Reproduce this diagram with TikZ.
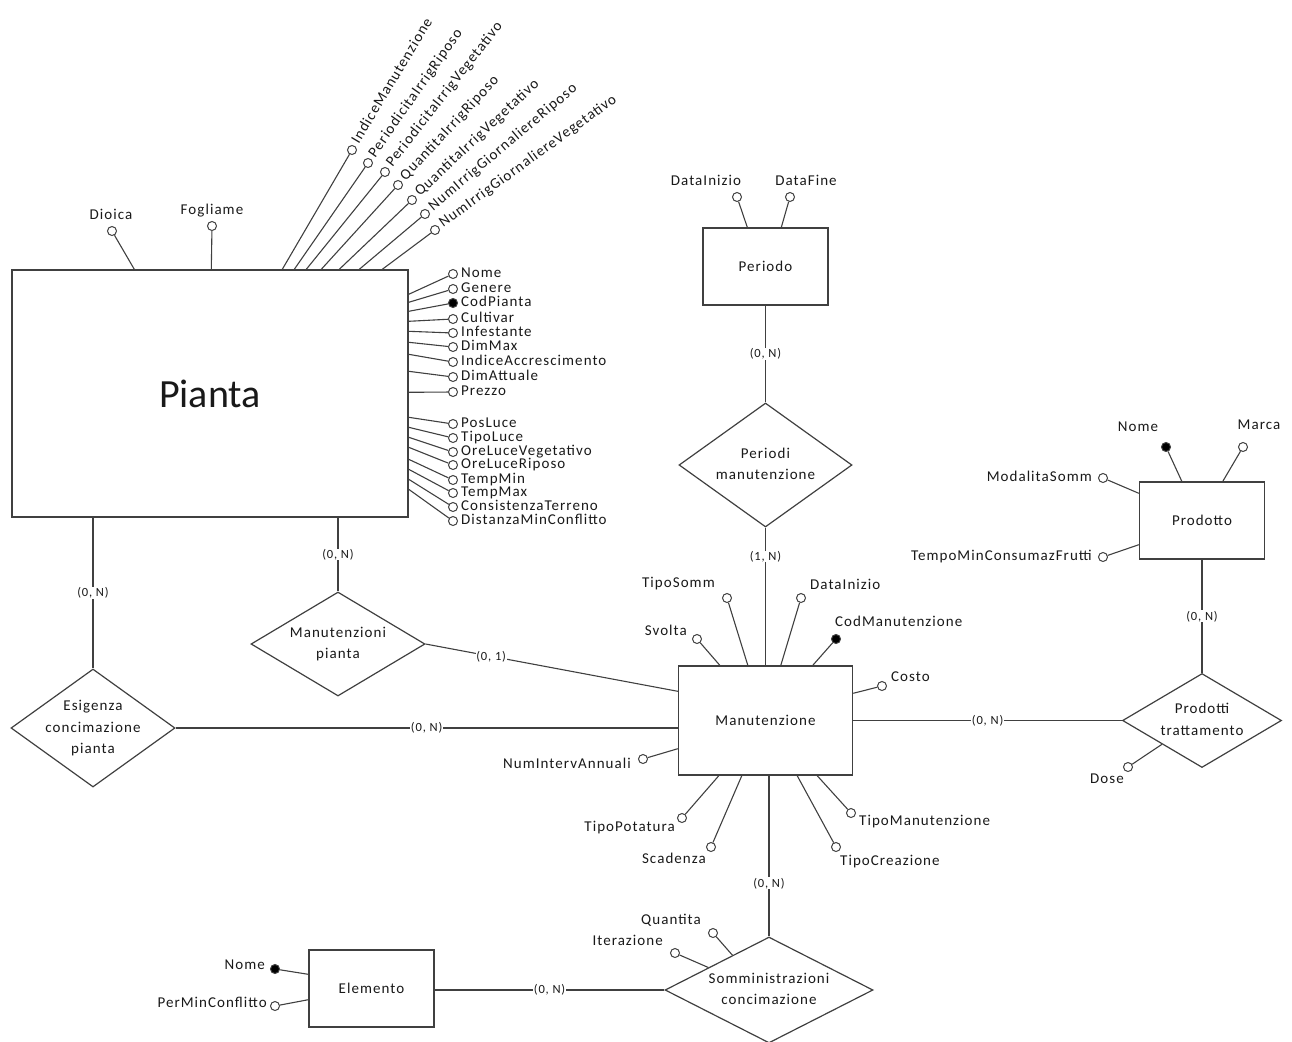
\documentclass[tikz,border=0pt]{standalone}
\usepackage{fontspec}
\setmainfont{Carlito}[LetterSpace=7]
\newfontfamily\titlefont{Carlito}
\usetikzlibrary{positioning, shapes.geometric, calc}

% relation text: zero-size box, so the diamond keeps its given size
\newcommand\reltext[1]{\smash{\raisebox{-3.5pt}{\makebox[0pt]{\begin{tabular}{@{}c@{}}#1\end{tabular}}}}}

\begin{document}
\begin{tikzpicture}[
  x=1pt, y=-1pt,
  font=\fontsize{15}{21.5}\selectfont,
  entity/.style={draw=black!75, line width=1.4pt, fill=white, inner sep=0pt, text=black!90},
  rel/.style={diamond, draw=black!75, line width=1.2pt, fill=white, inner sep=0pt, text=black!90},
  attr/.style={circle, draw=black!75, line width=1pt, fill=white, inner sep=0pt, minimum size=9pt},
  key/.style={attr, fill=black},
  lbl/.style={inner sep=0pt, text height=1.5ex, text depth=0.2ex, text=black!90},
  conn/.style={draw=black!75, line width=1.1pt},
  card/.style={fill=white, inner sep=0.5pt, text=black!90, font=\fontsize{12.5}{14}\selectfont}
]
\useasboundingbox (0,0) rectangle (1292,1041);

% === ENTITIES ===
\node[entity, minimum width=396pt, minimum height=247pt] (pianta) at (210,393.5)
  {\titlefont\fontsize{40}{44}\selectfont Pianta};
\node[entity, minimum width=125pt, minimum height=77pt] (periodo) at (765.5,266.5) {Periodo};
\node[entity, minimum width=174pt, minimum height=109pt] (manut) at (765.5,720.5) {Manutenzione};
\node[entity, minimum width=125pt, minimum height=77pt] (prodotto) at (1202,520.5) {Prodotto};
\node[entity, minimum width=125pt, minimum height=77pt] (elemento) at (371.5,988.5) {Elemento};

% === RELATIONS ===
\node[rel, minimum width=173pt, minimum height=124pt] (permanut) at (765.5,465)
  {\reltext{Periodi\\manutenzione}};
\node[rel, minimum width=174pt, minimum height=104pt] (manpianta) at (338,644)
  {\reltext{Manutenzioni\\pianta}};
\node[rel, minimum width=164pt, minimum height=118pt] (esig) at (93,728)
  {\reltext{Esigenza\\concimazione\\pianta}};
\node[rel, minimum width=159pt, minimum height=94pt] (prodtr) at (1202,720.5)
  {\reltext{Prodotti\\trattamento}};
\node[rel, minimum width=208pt, minimum height=106pt] (somm) at (769,990)
  {\reltext{Somministrazioni\\concimazione}};

% === CONNECTORS ===
\draw[conn] (periodo) -- node[card] (k1) {(0, N)} (permanut);
\draw[conn] (permanut) -- node[card, pos=0.21] (k2) {(1, N)} (manut);
\draw[conn] (pianta.south -| manpianta.north) -- node[card] (k3) {(0, N)} (manpianta.north);
\draw[conn] (pianta.south -| esig.north) -- node[card] (k4) {(0, N)} (esig.north);
\draw[conn] (manpianta.east) -- node[card, pos=0.26] (k5) {(0, 1)} ([yshift=-26pt]manut.north west);
\draw[conn] (esig.east) -- node[card] (k6) {(0, N)} (esig.east -| manut.west);
\draw[conn] (manut.east |- prodtr.west) -- node[card] (k7) {(0, N)} (prodtr.west);
\draw[conn] (prodotto) -- node[card] (k8) {(0, N)} (prodtr);
\draw[conn] (manut.south -| somm.north) -- node[card, pos=0.67] (k9) {(0, N)} (somm.north);
\draw[conn] (elemento.east |- somm.west) -- node[card] (k10) {(0, N)} (somm.west);

% === PIANTA ATTRIBUTES ===
\node[attr] (dioica) at (112,231) {};
\node[lbl] (tdioica) at (111,216) {Dioica};
\draw[conn] ([xshift=123pt]pianta.north west) -- (dioica);
\node[attr] (fogliame) at (212,226) {};
\node[lbl] (tfogliame) at (212,211) {Fogliame};
\draw[conn] ([xshift=200pt]pianta.north west) -- (fogliame);

\foreach \i/\o/\cx/\cy/\a/\t in {
  1/271/352/150/59/IndiceManutenzione,
  2/283/368/163/55/PeriodicitaIrrigRiposo,
  3/295/385/172/52/PeriodicitaIrrigVegetativo,
  4/310/398/185/47/QuantitaIrrigRiposo,
  5/328/412/200/43/QuantitaIrrigVegetativo,
  6/348/425/214/40/NumIrrigGiornaliereRiposo,
  7/371/435/230/36/NumIrrigGiornaliereVegetativo}
{
  \node[attr] (pr\i) at (\cx,\cy) {};
  \node[lbl, inner xsep=3pt, rotate=\a, anchor=west] (tpr\i) at (pr\i.\a) {\t};
  \draw[conn] ([xshift=\o pt]pianta.north west) -- (pr\i);
}

\foreach \i/\y/\o/\k/\t in {
  1/274/25/attr/Nome, 2/289/33/attr/Genere, 3/303/42/key/CodPianta,
  4/319/52/attr/Cultivar, 5/333/62/attr/Infestante, 6/347/73/attr/DimMax,
  7/362/85/attr/IndiceAccrescimento, 8/377/102/attr/DimAttuale, 9/392/123/attr/Prezzo,
  10/424/148/attr/PosLuce, 11/438/158/attr/TipoLuce, 12/452/168/attr/OreLuceVegetativo,
  13/465/178/attr/OreLuceRiposo, 14/480/190/attr/TempMin, 15/493/200/attr/TempMax,
  16/507/210/attr/ConsistenzaTerreno, 17/521/220/attr/DistanzaMinConflitto}
{
  \node[\k] (pa\i) at (453,\y) {};
  \node[lbl, anchor=west, xshift=3pt] (tpa\i) at (pa\i.east) {\t};
  \draw[conn] ([yshift=-\o pt]pianta.north east) -- (pa\i);
}

% === PERIODO ATTRIBUTES ===
\node[attr] (pinizio) at (737,197) {};
\node[lbl] (tpinizio) at (706,182) {DataInizio};
\draw[conn] ([xshift=45pt]periodo.north west) -- (pinizio);
\node[attr] (pfine) at (790,197) {};
\node[lbl] (tpfine) at (806,182) {DataFine};
\draw[conn] ([xshift=79pt]periodo.north west) -- (pfine);

% === MANUTENZIONE ATTRIBUTES ===
\node[attr] (msvolta) at (697,639) {};
\node[lbl, anchor=east] (tmsvolta) at (687,632) {Svolta};
\draw[conn] ([xshift=42pt]manut.north west) -- (msvolta);
\node[attr] (mtiposomm) at (727,598) {};
\node[lbl, anchor=east] (tmtiposomm) at (715,584) {TipoSomm};
\draw[conn] ([xshift=70pt]manut.north west) -- (mtiposomm);
\node[attr] (minizio) at (801,598) {};
\node[lbl, anchor=west] (tminizio) at (810,586) {DataInizio};
\draw[conn] ([xshift=103pt]manut.north west) -- (minizio);
\node[key] (mcod) at (836,639) {};
\node[lbl, anchor=west] (tmcod) at (835,623) {CodManutenzione};
\draw[conn] ([xshift=135pt]manut.north west) -- (mcod);
\node[attr] (mcosto) at (882,686) {};
\node[lbl, anchor=west] (tmcosto) at (891,678) {Costo};
\draw[conn] ([yshift=-28pt]manut.north east) -- (mcosto);
\node[attr] (mnum) at (643,759) {};
\node[lbl, anchor=east] (tmnum) at (631,765) {NumIntervAnnuali};
\draw[conn] ([yshift=27pt]manut.south west) -- (mnum);
\node[attr] (mpotatura) at (682,818) {};
\node[lbl, anchor=east] (tmpotatura) at (675,828) {TipoPotatura};
\draw[conn] ([xshift=41pt]manut.south west) -- (mpotatura);
\node[attr] (mscadenza) at (711,847) {};
\node[lbl, anchor=east] (tmscadenza) at (706,860) {Scadenza};
\draw[conn] ([xshift=64pt]manut.south west) -- (mscadenza);
\node[attr] (mtipoman) at (851,813) {};
\node[lbl, anchor=west] (tmtipoman) at (859,822) {TipoManutenzione};
\draw[conn] ([xshift=-36pt]manut.south east) -- (mtipoman);
\node[attr] (mcreazione) at (836,847) {};
\node[lbl, anchor=west] (tmcreazione) at (840,862) {TipoCreazione};
\draw[conn] ([xshift=-56pt]manut.south east) -- (mcreazione);

% === PRODOTTO ATTRIBUTES ===
\node[key] (pnome) at (1166,447) {};
\node[lbl] (tpnome) at (1138,428) {Nome};
\draw[conn] ([xshift=43pt]prodotto.north west) -- (pnome);
\node[attr] (pmarca) at (1243,447) {};
\node[lbl] (tpmarca) at (1259,426) {Marca};
\draw[conn] ([xshift=84pt]prodotto.north west) -- (pmarca);
\node[attr] (pmod) at (1103,478) {};
\node[lbl, anchor=east] (tpmod) at (1092,478) {ModalitaSomm};
\draw[conn] ([yshift=-12pt]prodotto.north west) -- (pmod);
\node[attr] (ptempo) at (1103,557) {};
\node[lbl, anchor=east] (tptempo) at (1092,557) {TempoMinConsumazFrutti};
\draw[conn] ([yshift=15pt]prodotto.south west) -- (ptempo);
\node[attr] (dose) at (1128,767) {};
\node[lbl] (tdose) at (1107,780) {Dose};
\draw[conn] (prodtr.south west) -- (dose);

% === SOMMINISTRAZIONI / ELEMENTO ATTRIBUTES ===
\node[attr] (squant) at (713,933) {};
\node[lbl, anchor=east] (tsquant) at (701,921) {Quantita};
\draw[conn] ($(somm.west)!0.65!(somm.north)$) -- (squant);
\node[attr] (siter) at (675,953) {};
\node[lbl, anchor=east] (tsiter) at (663,942) {Iterazione};
\draw[conn] ($(somm.west)!0.42!(somm.north)$) -- (siter);
\node[key] (enome) at (275,969) {};
\node[lbl, anchor=east] (tenome) at (265,966) {Nome};
\draw[conn] ([yshift=-25pt]elemento.north west) -- (enome);
\node[attr] (eper) at (275,1006) {};
\node[lbl, anchor=east] (teper) at (267,1004) {PerMinConflitto};
\draw[conn] ([yshift=28pt]elemento.south west) -- (eper);

\end{tikzpicture}
\end{document}
